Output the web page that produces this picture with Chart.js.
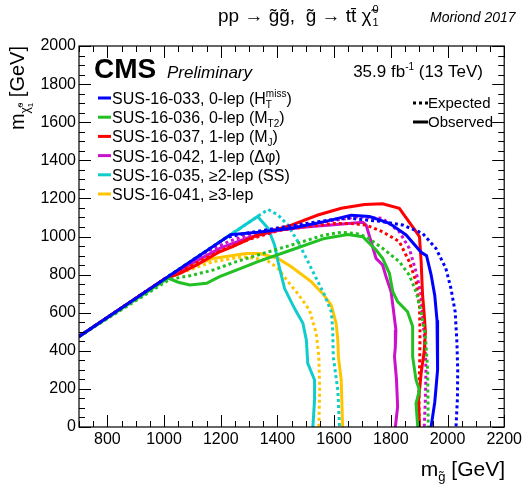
<!DOCTYPE html>
<html>
<head>
<meta charset="utf-8">
<script src="https://cdn.jsdelivr.net/npm/chart.js@4.4.0/dist/chart.umd.min.js"></script>
<style>
  body { margin: 0; background: #fff; }
  canvas { display: block; }
</style>
</head>
<body>
<canvas id="limits" width="525" height="486"></canvas>
<script>
"use strict";

/* axis ticks */
var xTicks = [800, 1000, 1200, 1400, 1600, 1800, 2000, 2200];
var yTicks = [0, 200, 400, 600, 800, 1000, 1200, 1400, 1600, 1800, 2000];

/* 95% CL exclusion contours, [m_gluino, m_LSP] in GeV */
var obs033 = [[700,475],[1235,1010],[1331,1022],[1449,1043],[1566,1078],[1660,1112],[1725,1105],[1795,1069],[1854,1008],[1907,917],[1926,899],[1942,800],[1955,690],[1963,560],[1966,450],[1964,300],[1955,130],[1942,0]];
var exp033 = [[700,475],[1220,995],[1300,1020],[1400,1045],[1500,1068],[1600,1090],[1654,1096],[1771,1078],[1842,1060],[1912,1017],[1959,938],[1994,833],[2012,728],[2027,605],[2033,450],[2036,300],[2035,150],[2030,0]];

var obs036 = [[700,475],[1014,781],[1050,760],[1091,745],[1150,754],[1196,789],[1255,824],[1331,868],[1449,929],[1566,990],[1648,1011],[1701,999],[1748,929],[1771,885],[1795,807],[1807,710],[1824,658],[1859,605],[1877,527],[1877,369],[1889,247],[1901,194],[1889,124],[1895,0]];
var exp036 = [[700,475],[1020,775],[1091,794],[1173,824],[1255,868],[1331,903],[1449,955],[1566,1008],[1625,1022],[1680,1015],[1713,999],[1771,938],[1830,868],[1865,798],[1889,710],[1907,605],[1922,480],[1930,300],[1932,0]];

var obs037 = [[700,475],[1000,775],[1056,807],[1114,850],[1196,920],[1240,945],[1331,1008],[1449,1060],[1543,1113],[1625,1148],[1707,1168],[1771,1172],[1830,1148],[1889,1025],[1901,999],[1907,868],[1912,693],[1918,588],[1922,500],[1918,400],[1907,282],[1898,142],[1901,0]];
var exp037 = [[700,475],[1000,775],[1100,850],[1200,925],[1300,985],[1400,1030],[1500,1052],[1600,1068],[1654,1069],[1713,1060],[1771,1025],[1830,973],[1865,868],[1889,763],[1901,640],[1903,500],[1902,350],[1899,194],[1900,0]];

var obs042 = [[700,475],[1000,775],[1100,860],[1200,940],[1300,995],[1408,1034],[1500,1050],[1600,1062],[1701,1075],[1713,1060],[1748,885],[1771,850],[1783,790],[1801,710],[1807,640],[1818,509],[1816,420],[1813,369],[1820,250],[1824,107],[1816,0]];
var exp042 = [[700,475],[1000,775],[1150,920],[1230,975],[1300,1010],[1400,1040],[1500,1060],[1600,1085],[1689,1104],[1771,1095],[1830,1025],[1865,938],[1889,815],[1907,693],[1912,588],[1920,450],[1924,300],[1922,150],[1918,0]];

var obs035 = [[700,475],[1330,1105],[1367,1043],[1390,955],[1402,868],[1425,728],[1460,623],[1490,544],[1502,457],[1507,334],[1531,247],[1531,142],[1525,0]];
var exp035 = [[700,475],[1367,1142],[1402,1113],[1437,1060],[1472,973],[1496,903],[1531,798],[1566,693],[1590,605],[1595,509],[1597,369],[1613,194],[1619,0]];

var obs041 = [[700,475],[1000,775],[1056,824],[1173,885],[1290,911],[1337,911],[1402,885],[1449,841],[1519,763],[1560,700],[1590,640],[1607,544],[1613,457],[1615,369],[1625,247],[1630,0]];
var exp041 = [[700,475],[1000,775],[1056,807],[1173,868],[1278,894],[1361,877],[1402,833],[1437,763],[1472,700],[1513,614],[1537,492],[1546,369],[1549,194],[1546,0]];

var FONT = "'Liberation Sans', Arial, Helvetica, sans-serif";

var analyses = [
	{ obs: obs033, exp: exp033, color: '#0000ff',
	  label: [{t: 'SUS-16-033, 0-lep (H'}, {t: 'T', s: 0.62, dy: 4}, {t: 'miss', s: 0.62, dy: -7, stack: true}, {t: ')'}] },
	{ obs: obs036, exp: exp036, color: '#22c022',
	  label: [{t: 'SUS-16-036, 0-lep (M'}, {t: 'T2', s: 0.62, dy: 4}, {t: ')'}] },
	{ obs: obs037, exp: exp037, color: '#ff0000',
	  label: [{t: 'SUS-16-037, 1-lep (M'}, {t: 'J', s: 0.62, dy: 4}, {t: ')'}] },
	{ obs: obs042, exp: exp042, color: '#cc11cc',
	  label: [{t: 'SUS-16-042, 1-lep (\u0394\u03c6)'}] },
	{ obs: obs035, exp: exp035, color: '#11cccc',
	  label: [{t: 'SUS-16-035, \u22652-lep (SS)'}] },
	{ obs: obs041, exp: exp041, color: '#ffc600',
	  label: [{t: 'SUS-16-041, \u22653-lep'}] }
];

function toXY(pts) {
	return pts.map(function (p) { return {x: p[0], y: p[1]}; });
}

var datasets = [];
analyses.forEach(function (a) {
	datasets.push({ data: toXY(a.obs), borderColor: a.color, borderWidth: 3,
		showLine: true, pointRadius: 0, tension: 0, fill: false });
	datasets.push({ data: toXY(a.exp), borderColor: a.color, borderWidth: 3, borderDash: [3, 3],
		showLine: true, pointRadius: 0, tension: 0, fill: false });
});

/* text with sub/superscripts: parts {t, s (scale), dy, dx, stack (share x with previous part)} */
function rich(ctx, parts, x, y, size, align, style) {
	style = style || '';
	var total = 0, prevW = 0;
	var widths = parts.map(function (p) {
		ctx.font = style + ' ' + Math.round(size * (p.s || 1)) + 'px ' + FONT;
		return ctx.measureText(p.t).width + (p.dx || 0);
	});
	parts.forEach(function (p, i) {
		if (p.stack) { total += Math.max(0, widths[i] - prevW); prevW = Math.max(prevW, widths[i]); }
		else { total += widths[i]; prevW = widths[i]; }
	});
	if (align === 'right') x -= total;
	else if (align === 'center') x -= total / 2;
	var cur = x, start = x, pw = 0;
	ctx.textAlign = 'left';
	ctx.textBaseline = 'alphabetic';
	parts.forEach(function (p, i) {
		ctx.font = style + ' ' + Math.round(size * (p.s || 1)) + 'px ' + FONT;
		if (p.stack) {
			ctx.fillText(p.t, start + (p.dx || 0), y + (p.dy || 0));
			pw = Math.max(pw, widths[i]);
			cur = start + pw;
		} else {
			ctx.fillText(p.t, cur + (p.dx || 0), y + (p.dy || 0));
			start = cur; pw = widths[i];
			cur += widths[i];
		}
	});
}

var decorations = {
	id: 'decorations',
	afterDraw: function (chart) {
		var ctx = chart.ctx, a = chart.chartArea;
		var xs = chart.scales.x, ys = chart.scales.y;
		ctx.save();
		ctx.fillStyle = '#000';
		ctx.strokeStyle = '#000';

		// frame and inward ticks on all four sides
		ctx.lineWidth = 1.2;
		ctx.strokeRect(a.left, a.top, a.right - a.left, a.bottom - a.top);
		ctx.lineWidth = 1;
		ctx.beginPath();
		for (var v = 700; v <= 2200; v += 50) {
			var px = Math.round(xs.getPixelForValue(v)) + 0.5;
			var len = v % 200 === 0 ? 12 : 6;
			ctx.moveTo(px, a.bottom); ctx.lineTo(px, a.bottom - len);
			ctx.moveTo(px, a.top); ctx.lineTo(px, a.top + len);
		}
		for (var w = 0; w <= 2000; w += 50) {
			var py = Math.round(ys.getPixelForValue(w)) + 0.5;
			var l2 = w % 200 === 0 ? 12 : 6;
			ctx.moveTo(a.left, py); ctx.lineTo(a.left + l2, py);
			ctx.moveTo(a.right, py); ctx.lineTo(a.right - l2, py);
		}
		ctx.stroke();

		// title line
		rich(ctx, [{t: 'pp \u2192 g\u0303g\u0303,  g\u0303 \u2192 tt\u0304 \u03c7\u0303'},
			{t: '1', s: 0.6, dy: 4, dx: 1}, {t: '0', s: 0.6, dy: -9, dx: 1, stack: true}], 218, 22, 19, 'left');
		ctx.font = 'italic 14px ' + FONT;
		ctx.textAlign = 'left';
		ctx.fillText('Moriond 2017', 430, 22);

		// CMS label and luminosity
		ctx.font = 'bold 28px ' + FONT;
		ctx.fillText('CMS', 94, 78);
		ctx.font = 'italic 17px ' + FONT;
		ctx.fillText('Preliminary', 167, 78);
		rich(ctx, [{t: '35.9 fb'}, {t: '-1', s: 0.6, dy: -7}, {t: ' (13 TeV)'}], 483, 77, 17, 'right');

		// analysis legend
		analyses.forEach(function (an, i) {
			var yy = 98 + i * 19.2;
			ctx.strokeStyle = an.color;
			ctx.lineWidth = 3;
			ctx.setLineDash([]);
			ctx.beginPath(); ctx.moveTo(98, yy); ctx.lineTo(111, yy); ctx.stroke();
			ctx.fillStyle = '#000';
			rich(ctx, an.label, 112, yy + 6, 16, 'left');
		});

		// line style legend
		ctx.strokeStyle = '#000';
		ctx.lineWidth = 3;
		ctx.setLineDash([3, 3]);
		ctx.beginPath(); ctx.moveTo(413, 103); ctx.lineTo(428, 103); ctx.stroke();
		ctx.setLineDash([]);
		ctx.beginPath(); ctx.moveTo(413, 122); ctx.lineTo(428, 122); ctx.stroke();
		ctx.font = '15px ' + FONT;
		ctx.fillText('Expected', 428, 108);
		ctx.fillText('Observed', 428, 127);

		// axis titles
		rich(ctx, [{t: 'm'}, {t: 'g\u0303', s: 0.62, dy: 5}, {t: ' [GeV]'}], 505, 476, 21, 'right');
		ctx.translate(24, 46);
		ctx.rotate(-Math.PI / 2);
		rich(ctx, [{t: 'm'}, {t: '\u03c7\u0303', s: 0.62, dy: 5}, {t: '1', s: 0.42, dy: 9},
			{t: '0', s: 0.42, dy: -1, stack: true}, {t: ' [GeV]'}], 0, 0, 20, 'right');
		ctx.restore();
	}
};

function plain(v) { return String(v); }

var ctx = document.getElementById('limits');
var limits = new Chart(ctx, {
	type: 'scatter',
	data: { datasets: datasets },
	options: {
		responsive: false,
		animation: false,
		events: [],
		layout: { padding: { top: 46, right: 20, left: 0, bottom: 0 } },
		plugins: { legend: { display: false }, tooltip: { enabled: false } },
		scales: {
			x: {
				type: 'linear', min: 700, max: 2200,
				afterBuildTicks: function (s) { s.ticks = xTicks.map(function (v) { return {value: v}; }); },
				afterFit: function (s) { s.height = 59; },
				grid: { display: false, drawTicks: false },
				border: { display: false },
				ticks: { color: '#000', padding: 3, maxRotation: 0, autoSkip: false, callback: plain,
					font: { family: FONT, size: 16 } }
			},
			y: {
				type: 'linear', min: 0, max: 2000,
				afterBuildTicks: function (s) { s.ticks = yTicks.map(function (v) { return {value: v}; }); },
				afterFit: function (s) { s.width = 79; },
				grid: { display: false, drawTicks: false },
				border: { display: false },
				ticks: { color: '#000', padding: 3, autoSkip: false, callback: plain,
					font: { family: FONT, size: 16 } }
			}
		}
	},
	plugins: [decorations]
});
</script>
</body>
</html>
